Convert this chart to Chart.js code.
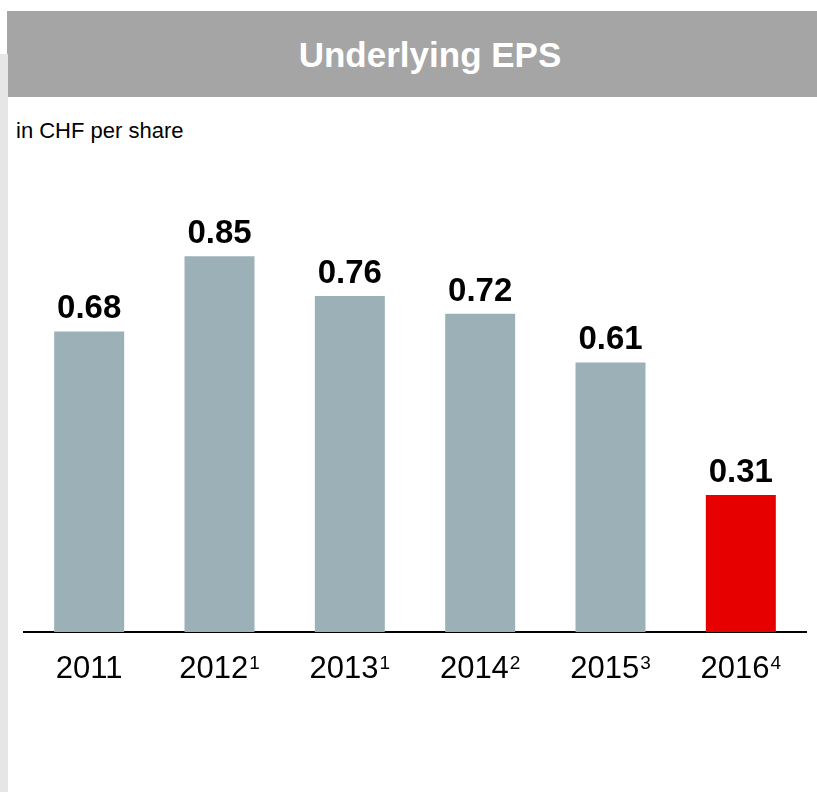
<!DOCTYPE html>
<html>
<head>
<meta charset="utf-8">
<script src="https://cdn.jsdelivr.net/npm/chart.js@4.4.1/dist/chart.umd.min.js"></script>
<style>
  html, body { margin: 0; padding: 0; background: #fff; }
  body { width: 817px; height: 792px; position: relative; overflow: hidden;
         font-family: "Liberation Sans", Arial, sans-serif; }
  #header { position: absolute; left: 7px; top: 11px; width: 810px; height: 86px; background: #a5a5a5; }
  #strip { position: absolute; left: 0; top: 54px; width: 8px; height: 738px; background: #e6e6e6; }
  #title { position: absolute; left: 430px; top: 37px; transform: translateX(-50%);
           color: #fff; font-weight: bold; font-size: 35px; line-height: 35px; white-space: nowrap; }
  #unit { position: absolute; left: 16px; top: 120px; font-size: 22px; line-height: 22px; color: #000; }
  #wrap { position: absolute; left: 0; top: 0; width: 817px; height: 792px; }
</style>
</head>
<body>
<div id="header"></div>
<div id="strip"></div>
<div id="title">Underlying EPS</div>
<div id="unit">in CHF per share</div>
<div id="wrap"><canvas id="epsChart"></canvas></div>
<script>
const years = ['2011', '2012', '2013', '2014', '2015', '2016'];
const footnotes = ['', '1', '1', '2', '3', '4'];

const eps = [
  0.68,  // 2011
  0.85,  // 2012
  0.76,  // 2013
  0.72,  // 2014
  0.61,  // 2015
  0.31   // 2016
];

const barColors = ['#9cb0b8', '#9cb0b8', '#9cb0b8', '#9cb0b8', '#9cb0b8', '#e60000'];
const FONT = '"Liberation Sans", Arial, sans-serif';

// value above each bar + year labels with footnote superscripts
const barText = {
  id: 'barText',
  afterDraw(chart) {
    const ctx = chart.ctx;
    const meta = chart.getDatasetMeta(0);
    const xScale = chart.scales.x;
    ctx.save();
    ctx.fillStyle = '#000';
    ctx.textBaseline = 'alphabetic';

    ctx.font = 'bold 33px ' + FONT;
    ctx.textAlign = 'center';
    meta.data.forEach((bar, i) => {
      ctx.fillText(eps[i].toFixed(2), bar.x, bar.y - 13);
    });

    const baseY = chart.chartArea.bottom + 46;
    years.forEach((yr, i) => {
      const cx = xScale.getPixelForTick(i);
      ctx.font = '31px ' + FONT;
      const w1 = ctx.measureText(yr).width;
      ctx.font = '19px ' + FONT;
      const w2 = footnotes[i] ? ctx.measureText(footnotes[i]).width + 1 : 0;
      const left = cx - (w1 + w2) / 2;
      ctx.textAlign = 'left';
      ctx.font = '31px ' + FONT;
      ctx.fillText(yr, left, baseY);
      if (footnotes[i]) {
        ctx.font = '19px ' + FONT;
        ctx.fillText(footnotes[i], left + w1 + 1, baseY - 9);
      }
    });
    ctx.restore();
  }
};

const ctx = document.getElementById('epsChart').getContext('2d');

new Chart(ctx, {
  type: 'bar',
  data: {
    labels: years,
    datasets: [{
      label: 'Underlying EPS',
      data: eps,
      backgroundColor: barColors,
      borderWidth: 0,
      categoryPercentage: 1,
      barPercentage: 0.537
    }]
  },
  options: {
    responsive: true,
    maintainAspectRatio: false,
    animation: false,
    layout: {
      padding: { left: 24, right: 11, top: 190, bottom: 160 }
    },
    plugins: {
      legend: { display: false },
      tooltip: { enabled: false }
    },
    scales: {
      x: {
        grid: { display: false, drawTicks: false },
        border: { display: true, color: '#000', width: 2 },
        ticks: { display: false }
      },
      y: {
        display: false,
        min: 0,
        max: 1
      }
    }
  },
  plugins: [barText]
});
</script>
</body>
</html>
